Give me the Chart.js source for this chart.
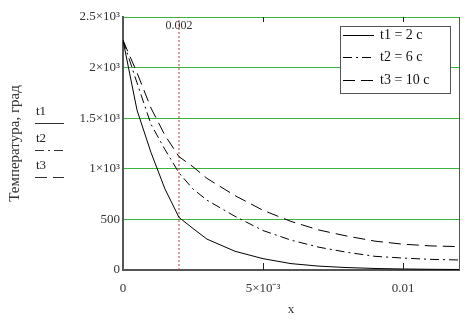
<!DOCTYPE html>
<html lang="ru">
<head>
    <meta charset="UTF-8">
    <title>Температура</title>
    <script src="https://cdn.jsdelivr.net/npm/chart.js"></script>
    <style>
        html, body { margin: 0; padding: 0; background: #fff; }
        #wrap { width: 472px; height: 320px; }
    </style>
</head>
<body>
<div id="wrap"><canvas id="tempChart" width="472" height="320"></canvas></div>
<script>
    // координата x и температура для трёх моментов времени
    const xValues = [0, 0.0005, 0.001, 0.0015, 0.002, 0.0025, 0.003, 0.004, 0.005, 0.006, 0.007, 0.008, 0.009, 0.010, 0.011, 0.012];
    const t1Values = [2270, 1580, 1160, 800, 520, 410, 305, 185, 112, 63, 38, 24, 15, 10, 7, 5];
    const t2Values = [2270, 1850, 1440, 1190, 960, 800, 690, 530, 390, 295, 225, 175, 135, 118, 105, 99];
    const t3Values = [2270, 1950, 1600, 1330, 1120, 1020, 905, 735, 590, 480, 395, 335, 285, 255, 238, 231];
    const seriesLabels = ['t1 = 2 c', 't2 = 6 c', 't3 = 10 c'];
    const shortLabels = ['t1', 't2', 't3'];
    const markerX = 0.002;
    const yTicks = [0, 500, 1000, 1500, 2000, 2500];
    const yTickLabels = ['0', '500', '1×10³', '1.5×10³', '2×10³', '2.5×10³'];
    const xTicks = [0, 0.005, 0.01];
    const xTickLabels = ['0', '5×10⁻³', '0.01'];

    const serif = 'Liberation Serif';
    const dashes = [[], [9, 4, 2, 4], [12, 6]];

    function toPoints(ys) {
        return xValues.map((x, i) => ({ x: x, y: ys[i] }));
    }

    const framePlugin = {
        id: 'frame',
        afterDatasetsDraw(chart) {
            const ctx = chart.ctx;
            const area = chart.chartArea;
            const xs = chart.scales.x;
            ctx.save();
            // правая граница
            ctx.strokeStyle = '#555';
            ctx.lineWidth = 1;
            ctx.setLineDash([]);
            ctx.beginPath();
            ctx.moveTo(area.right + 0.5, area.top);
            ctx.lineTo(area.right + 0.5, area.bottom);
            ctx.stroke();
            // внутренние засечки по x
            ctx.strokeStyle = '#222';
            xTicks.slice(1).forEach(v => {
                const px = Math.round(xs.getPixelForValue(v)) + 0.5;
                ctx.beginPath();
                ctx.moveTo(px, area.bottom);
                ctx.lineTo(px, area.bottom - 7);
                ctx.moveTo(px, area.top);
                ctx.lineTo(px, area.top + 5);
                ctx.stroke();
            });
            // подпись маркера
            ctx.fillStyle = '#333';
            ctx.font = '12px ' + serif;
            ctx.textAlign = 'center';
            ctx.textBaseline = 'middle';
            ctx.fillText(String(markerX), xs.getPixelForValue(markerX), area.top + 9);

            // легенда в рамке
            const lx = 340, ly = 26, lw = 110, lh = 67;
            ctx.fillStyle = '#fff';
            ctx.fillRect(lx, ly, lw, lh);
            ctx.strokeStyle = '#555';
            ctx.strokeRect(lx + 0.5, ly + 0.5, lw, lh);
            ctx.font = '14px ' + serif;
            ctx.textAlign = 'left';
            [35, 57, 80].forEach((y, i) => {
                ctx.strokeStyle = '#000';
                ctx.setLineDash(dashes[i]);
                ctx.beginPath();
                ctx.moveTo(343, y + 0.5);
                ctx.lineTo(374, y + 0.5);
                ctx.stroke();
                ctx.setLineDash([]);
                ctx.fillStyle = '#111';
                ctx.fillText(seriesLabels[i], 380, y);
            });

            // подписи кривых слева у оси
            ctx.font = '13px ' + serif;
            [[112, 123], [139, 150], [166, 177]].forEach((p, i) => {
                ctx.fillStyle = '#222';
                ctx.fillText(shortLabels[i], 36, p[0]);
                ctx.strokeStyle = '#333';
                ctx.setLineDash(dashes[i]);
                ctx.beginPath();
                ctx.moveTo(35, p[1] + 0.5);
                ctx.lineTo(64, p[1] + 0.5);
                ctx.stroke();
            });
            ctx.restore();
        }
    };

    new Chart(document.getElementById('tempChart'), {
        type: 'line',
        data: {
            datasets: [
                {
                    label: seriesLabels[0],
                    data: toPoints(t1Values),
                    borderColor: '#000',
                    borderWidth: 1,
                    borderDash: dashes[0],
                    pointRadius: 0,
                    tension: 0
                },
                {
                    label: seriesLabels[1],
                    data: toPoints(t2Values),
                    borderColor: '#000',
                    borderWidth: 1,
                    borderDash: dashes[1],
                    pointRadius: 0,
                    tension: 0
                },
                {
                    label: seriesLabels[2],
                    data: toPoints(t3Values),
                    borderColor: '#000',
                    borderWidth: 1,
                    borderDash: dashes[2],
                    pointRadius: 0,
                    tension: 0
                },
                {
                    label: 'marker',
                    data: [{ x: markerX, y: 0 }, { x: markerX, y: 2500 }],
                    borderColor: '#c0392b',
                    borderWidth: 1,
                    borderDash: [2, 2],
                    pointRadius: 0
                }
            ]
        },
        options: {
            responsive: false,
            animation: false,
            layout: { padding: { top: 17, right: 13, left: 0, bottom: 0 } },
            plugins: {
                legend: { display: false },
                tooltip: { enabled: false }
            },
            scales: {
                x: {
                    type: 'linear',
                    min: 0,
                    max: 0.012,
                    afterFit(scale) { scale.height = 50; },
                    afterBuildTicks(scale) { scale.ticks = xTicks.map(v => ({ value: v })); },
                    grid: { drawOnChartArea: false, drawTicks: false },
                    border: { color: '#555', width: 2 },
                    ticks: {
                        padding: 11,
                        maxRotation: 0,
                        color: '#333',
                        font: { family: serif, size: 13 },
                        callback: (v) => xTickLabels[xTicks.indexOf(v)]
                    },
                    title: {
                        display: true,
                        text: 'x',
                        color: '#333',
                        font: { family: serif, size: 13 },
                        padding: { top: 0, bottom: 3 }
                    }
                },
                y: {
                    min: 0,
                    max: 2500,
                    afterFit(scale) { scale.width = 123; },
                    afterBuildTicks(scale) { scale.ticks = yTicks.map(v => ({ value: v })); },
                    grid: {
                        drawTicks: false,
                        color: (c) => c.tick && c.tick.value === 0 ? 'rgba(0,0,0,0)' : '#3cb43c',
                        lineWidth: 1
                    },
                    border: { color: '#555', width: 2 },
                    ticks: {
                        padding: 3,
                        color: '#333',
                        font: { family: serif, size: 13 },
                        callback: (v) => yTickLabels[yTicks.indexOf(v)]
                    },
                    title: {
                        display: true,
                        text: 'Температура, град',
                        color: '#333',
                        font: { family: serif, size: 15 },
                        padding: { top: 6, bottom: 0 }
                    }
                }
            }
        },
        plugins: [framePlugin]
    });
</script>
</body>
</html>
